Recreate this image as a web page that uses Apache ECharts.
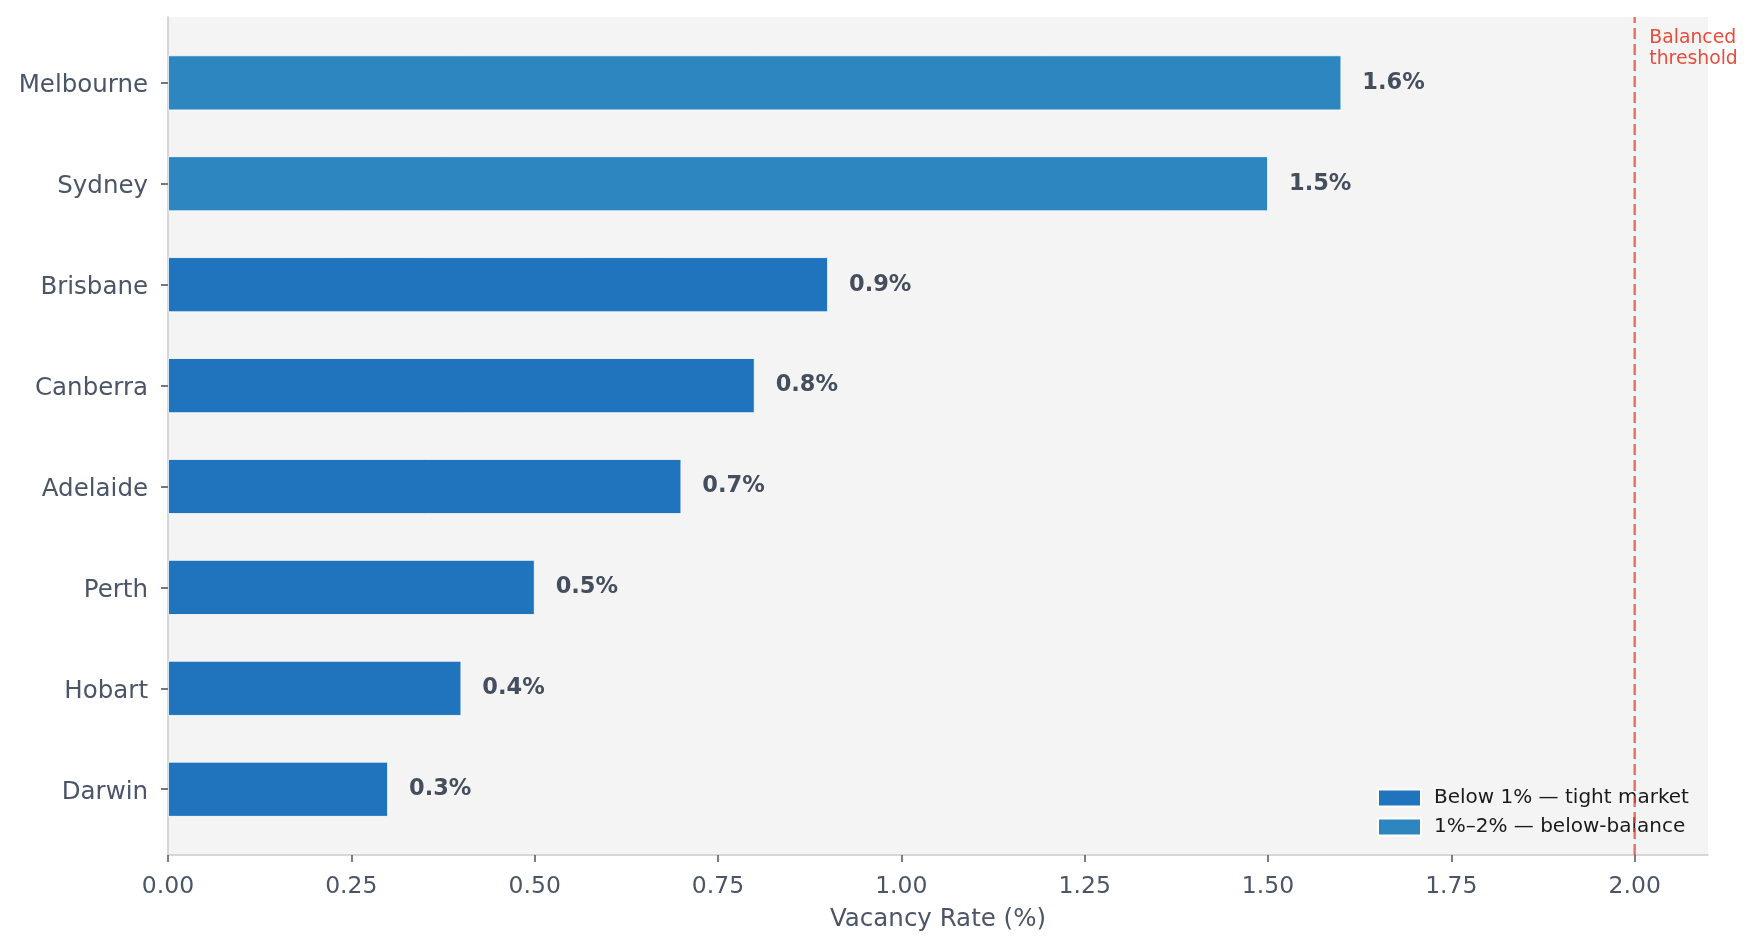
<!DOCTYPE html>
<html>
<head>
<meta charset="utf-8">
<script src="https://cdn.jsdelivr.net/npm/echarts@6/dist/echarts.min.js"></script>
<style>html,body{margin:0;padding:0;background:#fff}#c{width:1755px;height:948px}</style>
</head>
<body>
<div id="c"></div>
<script>
const cities = ['Darwin', 'Hobart', 'Perth', 'Adelaide', 'Canberra', 'Brisbane', 'Sydney', 'Melbourne'];
const vacancy = [0.3, 0.4, 0.5, 0.7, 0.8, 0.9, 1.5, 1.6];
const xTicks = [0, 0.25, 0.5, 0.75, 1.0, 1.25, 1.5, 1.75, 2.0];
const threshold = 2.0;
const legendNames = ['Below 1% — tight market', '1%–2% — below-balance'];
const colors = ['#1f74bd', '#2e86c1'];

const FONT = 'DejaVu Sans';
const TXT = '#4a5568';

const tight = vacancy.map(v => v < 1 ? v : '-');
const below = vacancy.map(v => v >= 1 ? v : '-');

const barLabel = {
  show: true, position: 'right', distance: 21,
  formatter: p => p.value.toFixed(1) + '%',
  fontFamily: FONT, fontSize: 22.5, fontWeight: 'bold', color: '#444e5d',
  padding: [3, 0, 0, 0]
};

const chart = echarts.init(document.getElementById('c'), null, {renderer: 'canvas'});
chart.setOption({
  backgroundColor: '#ffffff',
  animation: false,
  textStyle: {fontFamily: FONT},
  grid: [
    {left: 168, right: 47, top: 17, bottom: 93, show: true, backgroundColor: '#f4f4f4', borderWidth: 0},
    {left: 168, right: 47, top: 32.4, bottom: 108.3, show: false}
  ],
  xAxis: [
    {
      gridIndex: 0, type: 'value', min: 0, max: 2.1,
      name: 'Vacancy Rate (%)', nameLocation: 'middle', nameGap: 52,
      nameTextStyle: {fontFamily: FONT, fontSize: 24.5, color: TXT},
      axisLine: {show: true, lineStyle: {color: '#cccccc', width: 1.6}},
      axisTick: {show: true, length: 7, customValues: xTicks, lineStyle: {color: TXT, width: 1.5}},
      axisLabel: {show: true, customValues: xTicks, margin: 20, fontFamily: FONT, fontSize: 23.5, color: TXT,
        formatter: v => v.toFixed(2)},
      splitLine: {show: false}
    },
    {
      gridIndex: 1, type: 'value', min: 0, max: 2.1,
      axisLine: {show: false}, axisTick: {show: false}, axisLabel: {show: false}, splitLine: {show: false}
    }
  ],
  yAxis: [
    {
      gridIndex: 0, type: 'value', min: 0, max: 1,
      axisLine: {show: true, onZero: false, lineStyle: {color: '#cccccc', width: 1.6}},
      axisTick: {show: false}, axisLabel: {show: false}, splitLine: {show: false}
    },
    {
      gridIndex: 1, type: 'category', data: cities,
      axisLine: {show: false},
      axisTick: {show: true, alignWithLabel: true, length: 7, lineStyle: {color: TXT, width: 1.6}},
      axisLabel: {
        show: true, margin: 20, fontFamily: FONT, fontSize: 24.5, color: TXT,
        formatter: v => '{c|' + v + '}',
        rich: {c: {fontFamily: FONT, fontSize: 24.5, color: TXT, padding: [6, 0, 0, 0]}}
      },
      splitLine: {show: false}
    }
  ],
  legend: {
    orient: 'vertical', left: 1372, top: 783,
    data: legendNames,
    icon: 'rect', itemWidth: 43, itemHeight: 17, itemGap: 9,
    textStyle: {fontFamily: FONT, fontSize: 20, color: '#1a1a1a', padding: [0, 0, 0, 8]},
    selectedMode: false
  },
  series: [
    {
      name: legendNames[0], type: 'bar', xAxisIndex: 1, yAxisIndex: 1,
      data: tight, barWidth: 55, barGap: '-100%',
      itemStyle: {color: colors[0], borderColor: '#ffffff', borderWidth: 0.8},
      label: barLabel
    },
    {
      name: legendNames[1], type: 'bar', xAxisIndex: 1, yAxisIndex: 1,
      data: below, barWidth: 55, barGap: '-100%',
      itemStyle: {color: colors[1], borderColor: '#ffffff', borderWidth: 0.8},
      label: barLabel
    },
    {
      type: 'line', xAxisIndex: 0, yAxisIndex: 0,
      data: [[threshold, 0], [threshold, 1]],
      symbol: 'none', silent: true, z: 5,
      lineStyle: {color: '#e74c3c', opacity: 0.8, width: 2.4, type: [11, 5]}
    }
  ]
});

const px = chart.convertToPixel({xAxisIndex: 0}, threshold + 0.02);
chart.setOption({
  graphic: [{
    type: 'text', left: px, top: 27.5, z: 10,
    style: {text: 'Balanced\nthreshold', fontFamily: FONT, fontSize: 18.8, lineHeight: 21,
      fill: '#e74c3c', align: 'left'}
  }]
});
</script>
</body>
</html>
